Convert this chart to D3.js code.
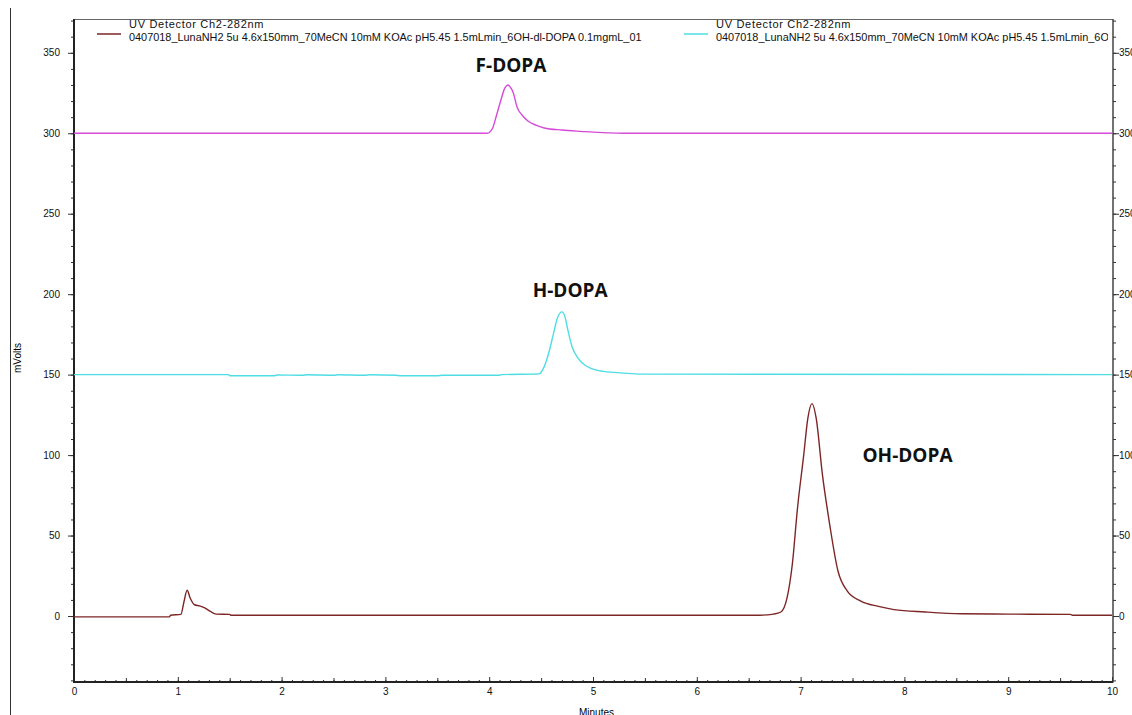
<!DOCTYPE html>
<html>
<head>
<meta charset="utf-8">
<script src="https://cdn.jsdelivr.net/npm/d3@7"></script>
<style>
    body { margin: 0; background: #fff; }
    svg { display: block; }
</style>
</head>
<body>
<script>
(function()
{
    // OH-DOPA trace (brown), mVolts vs minutes
    var ohTime  = [0, 0.92, 0.93, 1.03, 1.06, 1.09, 1.12, 1.16, 1.21, 1.26, 1.31, 1.37, 1.5, 1.51,
                   6.6, 6.74, 6.81, 6.87, 6.92, 6.97, 7.03, 7.07, 7.11, 7.15, 7.21, 7.28, 7.36, 7.45,
                   7.58, 7.75, 7.9, 8.2, 8.55, 9.0, 9.6, 9.62, 10];
    var ohValue = [-0.5, -0.5, 0.5, 1, 9, 16, 11, 7, 6.3, 5, 3, 1.2, 1, 0.5,
                   0.5, 1.2, 2.5, 11.4, 32, 67, 100, 123, 132, 123, 88, 57, 28, 15.5,
                   9.3, 6, 4, 2.5, 1.4, 1.2, 1, 0.5, 0.5];

    // H-DOPA trace (cyan)
    var hTime  = [0, 1.49, 1.5, 1.93, 1.95, 2.2, 2.25, 2.5, 2.55, 2.8, 2.85, 3.1, 3.15, 3.5, 3.55,
                  4.1, 4.12, 4.48, 4.53, 4.58, 4.61, 4.66, 4.70, 4.73, 4.76, 4.80, 4.85, 4.92, 4.98,
                  5.1, 5.2, 5.5, 10];
    var hValue = [150, 150, 149.3, 149.3, 149.8, 149.6, 149.9, 149.6, 149.9, 149.6, 149.9, 149.6, 149.3, 149.3, 149.6,
                  149.6, 150, 150.5, 155, 165, 173, 185.6, 189, 186, 177, 167, 160.7, 156, 153.9,
                  152, 151.4, 150.3, 150];

    // F-DOPA trace (magenta)
    var fTime  = [0, 3.98, 4.03, 4.07, 4.11, 4.15, 4.18, 4.21, 4.23, 4.27, 4.32, 4.37, 4.45, 4.53, 4.7, 4.88, 5.3, 10];
    var fValue = [300, 300, 302.8, 311, 320, 328, 330, 328, 325.5, 316, 311, 307.8, 305, 303.3, 302, 301.2, 300, 300];

    var yMajor = [0, 50, 100, 150, 200, 250, 300, 350];
    var xMajor = [0, 1, 2, 3, 4, 5, 6, 7, 8, 9, 10];

    var legendTitle = "UV Detector  Ch2-282nm";
    var legendFile = "0407018_LunaNH2 5u 4.6x150mm_70MeCN 10mM KOAc pH5.45 1.5mLmin_6OH-dl-DOPA 0.1mgmL_01";

    var peakNames = ["F-DOPA", "H-DOPA", "OH-DOPA"];

    var w = 1132, h = 715;
    var left = 74, right = 1113, top = 19, bottom = 682;

    var svg = d3.select("body").append("svg")
        .attr("width", w)
        .attr("height", h)
        .attr("font-family", "'Liberation Sans', Arial, sans-serif");

    var x = d3.scaleLinear().domain([0, 10]).range([left, right - 1]);
    var y = d3.scaleLinear().domain([-41, 371]).range([bottom, top]);

    // window edge on the far left
    svg.append("line")
        .attr("x1", 10.5).attr("x2", 10.5)
        .attr("y1", 8).attr("y2", h)
        .attr("stroke", "#333").attr("stroke-width", 1);

    var defs = svg.append("defs");
    defs.append("clipPath").attr("id", "plot")
        .append("rect")
        .attr("x", left).attr("y", top)
        .attr("width", right - left).attr("height", bottom - top);
    defs.append("clipPath").attr("id", "legendclip")
        .append("rect")
        .attr("x", left).attr("y", top)
        .attr("width", right - left - 5).attr("height", 40);

    // frame
    svg.append("rect")
        .attr("x", left).attr("y", top + 0.5)
        .attr("width", right - left).attr("height", bottom - top)
        .attr("fill", "none").attr("stroke", "#666").attr("stroke-width", 1);

    var minorY = d3.range(-40, 371, 10);
    var minorX = d3.range(0, 10.001, 0.1);

    function axisY(gen, tx, pad) {
        var g = svg.append("g").attr("transform", "translate(" + tx + ",0)");
        g.call(gen(y).tickValues(minorY).tickSize(3).tickFormat(""));
        g.select(".domain").remove();
        var g2 = svg.append("g").attr("transform", "translate(" + tx + ",0)");
        g2.call(gen(y).tickValues(yMajor).tickSize(6).tickPadding(pad).tickFormat(d3.format("d")));
        g2.select(".domain").remove();
    }
    axisY(d3.axisLeft, left, 8);
    axisY(d3.axisRight, right, 0);

    var gx = svg.append("g").attr("transform", "translate(0," + bottom + ")");
    gx.call(d3.axisBottom(x).tickValues(minorX).tickSize(-2).tickFormat(""));
    gx.select(".domain").remove();
    var gx2 = svg.append("g").attr("transform", "translate(0," + bottom + ")");
    gx2.call(d3.axisBottom(x).tickValues(d3.range(0.5, 10, 1)).tickSize(-4).tickFormat(""));
    gx2.select(".domain").remove();
    var gx3 = svg.append("g").attr("transform", "translate(0," + bottom + ")");
    gx3.call(d3.axisBottom(x).tickValues(xMajor).tickSize(-5).tickPadding(6).tickFormat(d3.format("d")));
    gx3.select(".domain").remove();

    svg.selectAll(".tick line").attr("stroke", "#333");
    svg.selectAll(".tick text")
        .attr("font-size", "10px")
        .attr("fill", "#111");

    // heavy left and bottom axis lines
    svg.append("line")
        .attr("x1", left).attr("x2", left)
        .attr("y1", top).attr("y2", bottom + 1)
        .attr("stroke", "#222").attr("stroke-width", 2);
    svg.append("line")
        .attr("x1", left - 1).attr("x2", right)
        .attr("y1", bottom).attr("y2", bottom)
        .attr("stroke", "#222").attr("stroke-width", 2);
    svg.append("line")
        .attr("x1", right).attr("x2", right)
        .attr("y1", top).attr("y2", bottom)
        .attr("stroke", "#333").attr("stroke-width", 1);

    svg.append("text")
        .attr("transform", "translate(21,358) rotate(-90)")
        .attr("text-anchor", "middle")
        .attr("font-size", "10px")
        .text("mVolts");
    svg.append("text")
        .attr("x", (left + right) / 2 + 3).attr("y", 716)
        .attr("text-anchor", "middle")
        .attr("font-size", "10px")
        .text("Minutes");

    var series = [
        { t: ohTime, v: ohValue, color: "#7d2626" },
        { t: hTime, v: hValue, color: "#4fdde3" },
        { t: fTime, v: fValue, color: "#d54bd8" }
    ];

    var line = d3.line()
        .x(function (d) { return x(d[0]); })
        .y(function (d) { return y(d[1]); })
        .curve(d3.curveMonotoneX);

    var plot = svg.append("g").attr("clip-path", "url(#plot)");
    plot.selectAll("path.trace")
        .data(series)
        .enter()
        .append("path")
        .attr("class", "trace")
        .attr("d", function (s) {
            return line(s.t.map(function (t, i) { return [t, s.v[i]]; }));
        })
        .attr("fill", "none")
        .attr("stroke", function (s) { return s.color; })
        .attr("stroke-width", 1.4);

    // legend entries (second one runs past the frame and is cut)
    var legend = [
        { x: 97, color: series[0].color },
        { x: 684, color: series[1].color }
    ];
    var lg = svg.append("g").attr("clip-path", "url(#legendclip)")
        .selectAll("g.legend")
        .data(legend)
        .enter()
        .append("g")
        .attr("class", "legend")
        .attr("transform", function (d) { return "translate(" + d.x + ",0)"; });
    lg.append("line")
        .attr("x1", 0).attr("x2", 24)
        .attr("y1", 34).attr("y2", 34)
        .attr("stroke", function (d) { return d.color; })
        .attr("stroke-width", 1.5);
    lg.append("text")
        .attr("x", 32).attr("y", 28)
        .attr("font-size", "11px")
        .attr("letter-spacing", "0.7px")
        .attr("fill", "#111")
        .text(legendTitle);
    lg.append("text")
        .attr("x", 32).attr("y", 41)
        .attr("font-size", "10.9px")
        .attr("fill", "#111")
        .text(legendFile);

    // peak names, placed above each apex
    var peaks = [
        { name: peakNames[0], t: 4.21, v: 338 },
        { name: peakNames[1], t: 4.78, v: 198.2 },
        { name: peakNames[2], t: 8.03, v: 95.7 }
    ];
    svg.selectAll("text.peak")
        .data(peaks)
        .enter()
        .append("text")
        .attr("class", "peak")
        .attr("x", function (d) { return x(d.t); })
        .attr("y", function (d) { return y(d.v); })
        .attr("text-anchor", "middle")
        .attr("font-family", "'Open Sans', sans-serif")
        .attr("font-weight", "bold")
        .attr("font-size", "19px")
        .attr("fill", "#111")
        .text(function (d) { return d.name; });
})();
</script>
</body>
</html>
